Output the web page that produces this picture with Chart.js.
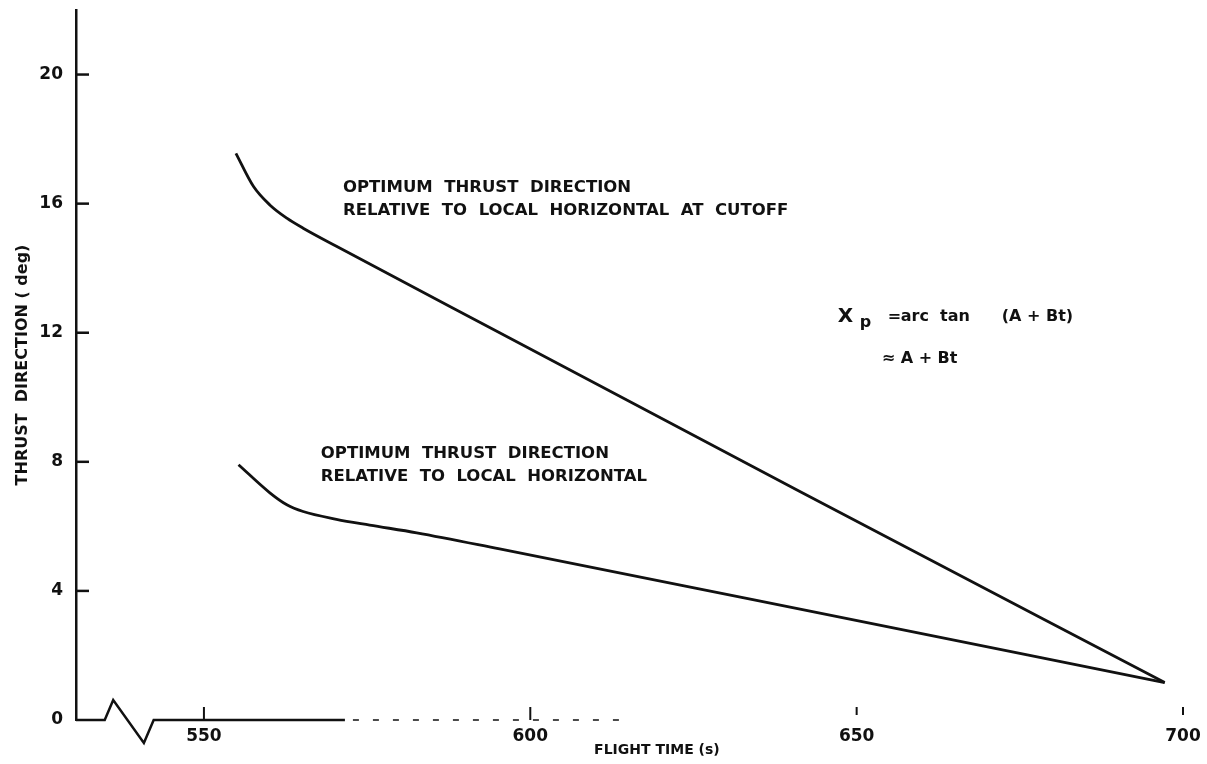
<!DOCTYPE html>
<html>
<head>
<meta charset="utf-8">
<title>Thrust direction vs flight time</title>
<script src="https://cdn.jsdelivr.net/npm/chart.js@4.4.0/dist/chart.umd.min.js"></script>
<style>
    html, body { margin: 0; padding: 0; background: #fff; }
    .chart-wrap { position: relative; width: 1207px; height: 764px; }
</style>
</head>
<body>
<div class="chart-wrap"><canvas id="thrustChart"></canvas></div>
<script>
// Values
const cutoffTime = [554.9, 557.6, 560.1, 562.7, 565.2, 570.3, 595.3, 641.3, 697.2];
const cutoffDeg  = [17.56, 16.53, 15.96, 15.55, 15.24, 14.68, 12.0, 7.08, 1.16];

const localTime = [555.3, 560.1, 562.7, 565.2, 570.3, 575.4, 582.6, 595.3, 634.1, 697.2];
const localDeg  = [7.91, 7.04, 6.67, 6.46, 6.22, 6.04, 5.80, 5.30, 3.73, 1.16];

const xTicks = [550, 600, 650, 700];
const yTicks = [0, 4, 8, 12, 16, 20];

const cutoffLabel = ['OPTIMUM  THRUST  DIRECTION', 'RELATIVE  TO  LOCAL  HORIZONTAL  AT  CUTOFF'];
const localLabel  = ['OPTIMUM  THRUST  DIRECTION', 'RELATIVE  TO  LOCAL  HORIZONTAL'];

const ink = '#111';
const font = '"DejaVu Sans", sans-serif';

const toPoints = (xs, ys) => xs.map((v, i) => ({ x: v, y: ys[i] }));

// axis break (time values) and the faded stretch of the scanned baseline
const breakTimes = [534.8, 536.1, 540.8, 542.3];
const baselineSolidEnd = 571.6;
const baselineFadeEnd = 614.8;

const decorPlugin = {
    id: 'decor',
    afterDraw(chart) {
        const { ctx, scales: { x, y } } = chart;
        const y0 = y.getPixelForValue(0);
        ctx.save();
        ctx.strokeStyle = ink;
        ctx.fillStyle = ink;
        ctx.lineWidth = 2.5;
        ctx.lineJoin = 'miter';

        // y ticks point into the plot
        yTicks.forEach(v => {
            if (v === 0) return;
            const py = y.getPixelForValue(v);
            ctx.beginPath();
            ctx.moveTo(x.left, py);
            ctx.lineTo(x.left + 13, py);
            ctx.stroke();
        });

        // baseline with break symbol
        const b = breakTimes.map(v => x.getPixelForValue(v));
        ctx.beginPath();
        ctx.moveTo(x.left, y0);
        ctx.lineTo(b[0], y0);
        ctx.lineTo(b[1], y0 - 20);
        ctx.lineTo(b[2], y0 + 23);
        ctx.lineTo(b[3], y0);
        ctx.lineTo(x.getPixelForValue(baselineSolidEnd), y0);
        ctx.stroke();

        ctx.lineWidth = 1.5;
        ctx.setLineDash([6, 14]);
        ctx.beginPath();
        ctx.moveTo(x.getPixelForValue(baselineSolidEnd) + 8, y0);
        ctx.lineTo(x.getPixelForValue(baselineFadeEnd), y0);
        ctx.stroke();
        ctx.setLineDash([]);

        // x ticks point up
        ctx.lineWidth = 2;
        xTicks.forEach(v => {
            const px = x.getPixelForValue(v);
            const floating = v > baselineFadeEnd;
            ctx.beginPath();
            ctx.moveTo(px, y0 - 13);
            ctx.lineTo(px, floating ? y0 - 5 : y0);
            ctx.stroke();
        });

        // curve labels
        ctx.font = 'bold 16.5px ' + font;
        ctx.textBaseline = 'middle';
        ctx.textAlign = 'left';
        const drawLabel = (lines, t, deg) => {
            const px = x.getPixelForValue(t);
            const py = y.getPixelForValue(deg);
            lines.forEach((s, i) => ctx.fillText(s, px, py + i * 23));
        };
        drawLabel(cutoffLabel, 571.3, 16.48);
        drawLabel(localLabel, 567.9, 8.25);

        // formula
        const fx = x.getPixelForValue(647.1);
        const fy = y.getPixelForValue(12.5);
        ctx.font = 'bold 20px ' + font;
        ctx.fillText('X', fx, fy);
        ctx.font = 'bold 16px ' + font;
        ctx.fillText('p', fx + 22, fy + 6);
        ctx.fillText('=', fx + 50, fy);
        ctx.fillText('arc  tan', fx + 63, fy);
        ctx.fillText('(A + Bt)', fx + 164, fy);
        ctx.fillText('\u2248 A + Bt', fx + 44, fy + 42);

        // x axis title
        ctx.textAlign = 'center';
        ctx.font = 'bold 14px ' + font;
        ctx.fillText('FLIGHT TIME (s)', x.getPixelForValue(619.4), y0 + 30);

        ctx.restore();
    }
};

new Chart(document.getElementById('thrustChart'), {
    type: 'line',
    data: {
        datasets: [
            {
                label: 'At cutoff',
                data: toPoints(cutoffTime, cutoffDeg),
                borderColor: ink,
                borderWidth: 2.8,
                pointRadius: 0,
                cubicInterpolationMode: 'monotone',
                fill: false
            },
            {
                label: 'Local horizontal',
                data: toPoints(localTime, localDeg),
                borderColor: ink,
                borderWidth: 2.8,
                pointRadius: 0,
                cubicInterpolationMode: 'monotone',
                fill: false
            }
        ]
    },
    options: {
        responsive: true,
        maintainAspectRatio: false,
        animation: false,
        layout: { padding: { top: 10, right: 24, left: 0, bottom: 0 } },
        plugins: {
            legend: { display: false },
            tooltip: { enabled: false }
        },
        scales: {
            x: {
                type: 'linear',
                min: 530.4,
                max: 700,
                afterFit: s => {
                    s.height = 44;
                    s.paddingLeft = 0;
                    s.paddingRight = 0;
                },
                afterBuildTicks: s => { s.ticks = xTicks.map(v => ({ value: v })); },
                grid: { display: false, drawTicks: false },
                border: { display: false },
                ticks: {
                    color: ink,
                    padding: 6,
                    maxRotation: 0,
                    font: { family: font, size: 17, weight: 'bold' }
                }
            },
            y: {
                min: 0,
                max: 22,
                afterFit: s => {
                    s.width = 76;
                    s.paddingTop = 0;
                    s.paddingBottom = 0;
                },
                afterBuildTicks: s => { s.ticks = yTicks.map(v => ({ value: v })); },
                grid: { display: false, drawTicks: false },
                border: { display: true, color: ink, width: 2.5 },
                ticks: {
                    color: ink,
                    padding: 13,
                    font: { family: font, size: 17, weight: 'bold' }
                },
                title: {
                    display: true,
                    text: 'THRUST  DIRECTION ( deg)',
                    color: ink,
                    padding: 13,
                    font: { family: font, size: 16, weight: 'bold' }
                }
            }
        }
    },
    plugins: [decorPlugin]
});
</script>
</body>
</html>
